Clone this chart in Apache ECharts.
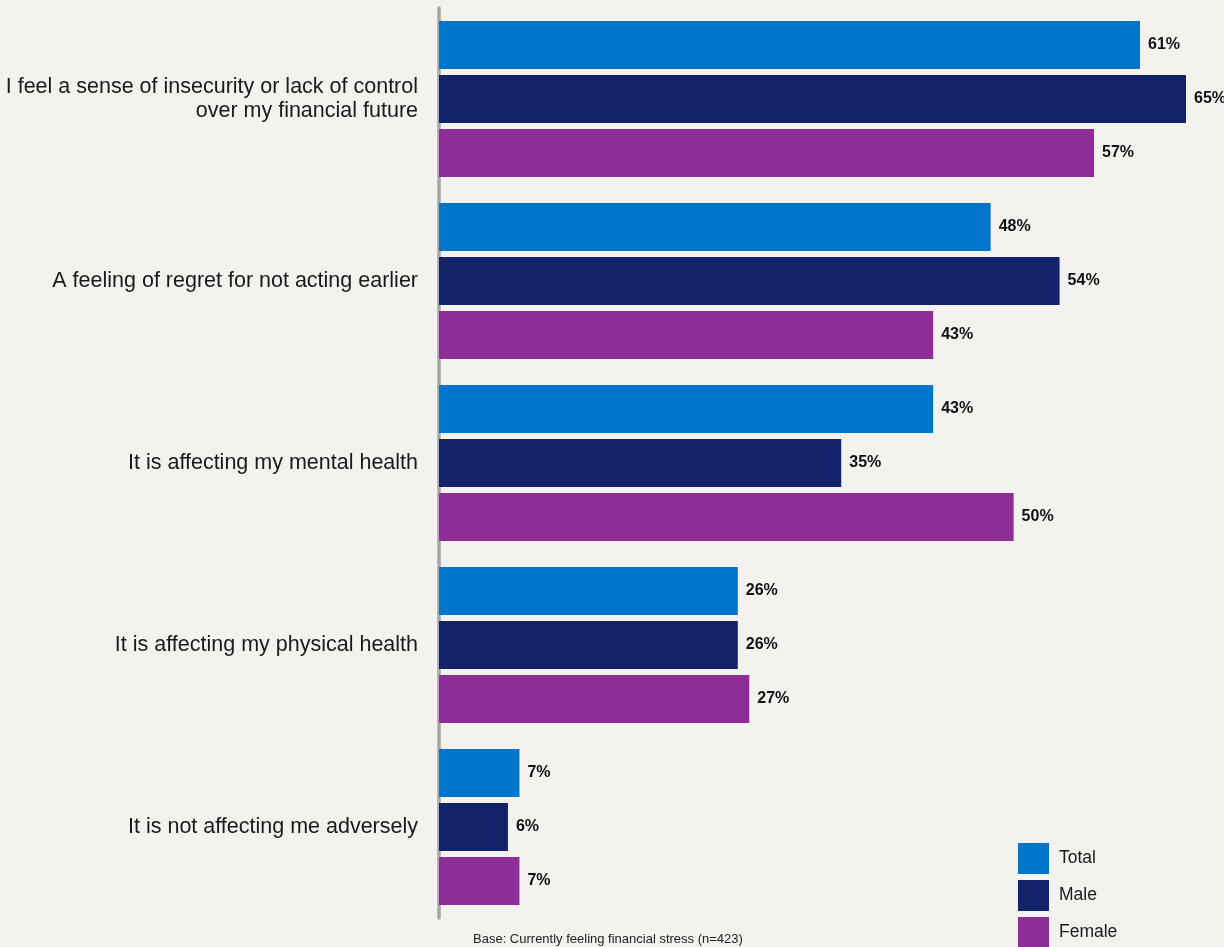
<!DOCTYPE html>
<html>
<head>
<meta charset="utf-8">
<script src="https://cdn.jsdelivr.net/npm/echarts@6/dist/echarts.min.js"></script>
<style>
  html, body { margin: 0; padding: 0; background: #F3F2EF; }
  #chart { width: 1224px; height: 947px; }
</style>
</head>
<body>
<div id="chart"></div>
<script>
// Survey answers, one row per statement (top to bottom)
const categories = [
  'I feel a sense of insecurity or lack of control\nover my financial future',
  'A feeling of regret for not acting earlier',
  'It is affecting my mental health',
  'It is affecting my physical health',
  'It is not affecting me adversely'
];
const totalValues  = [61, 48, 43, 26, 7];
const maleValues   = [65, 54, 35, 26, 6];
const femaleValues = [57, 43, 50, 27, 7];
const seriesNames  = ['Total', 'Male', 'Female'];
const footnote = 'Base: Currently feeling financial stress (n=423)';

const colors = ['#0075C9', '#13236A', '#8E2D95'];
const FONT = '"Liberation Sans", Arial, Helvetica, sans-serif';

const chart = echarts.init(document.getElementById('chart'), null, { renderer: 'canvas' });

function barSeries(name, data, color) {
  return {
    name: name,
    type: 'bar',
    data: data,
    barGap: '12.5%',
    barCategoryGap: '14.3%',
    itemStyle: { color: color },
    label: {
      show: true,
      position: 'right',
      distance: 8,
      formatter: '{c}%',
      fontFamily: FONT,
      fontSize: 16,
      fontWeight: 'bold',
      color: '#111'
    },
    emphasis: { disabled: true },
    animation: false
  };
}

// Legend drawn as a fixed vertical column of swatches in the lower right
const legendGraphics = [];
seriesNames.forEach(function (name, i) {
  const y = 843 + i * 37;
  legendGraphics.push({
    type: 'rect',
    shape: { x: 1018, y: y, width: 31, height: 31 },
    style: { fill: colors[i] }
  });
  legendGraphics.push({
    type: 'text',
    x: 1059,
    y: y + 15.5,
    style: {
      text: name,
      fontFamily: FONT,
      fontSize: 17.5,
      fill: '#1A1A1A',
      verticalAlign: 'middle'
    }
  });
});

chart.setOption({
  backgroundColor: '#F3F2EF',
  animation: false,
  textStyle: { fontFamily: FONT },
  grid: { left: 439, right: 38, top: 8, height: 910, containLabel: false },
  xAxis: {
    type: 'value',
    min: 0,
    max: 65,
    show: false
  },
  yAxis: {
    type: 'category',
    data: categories,
    inverse: true,
    offset: 2,
    axisLine: { show: true, lineStyle: { color: '#A6A6A6', width: 3.5 } },
    axisTick: { show: false },
    axisLabel: {
      margin: 19,
      fontFamily: FONT,
      fontSize: 21.5,
      lineHeight: 24,
      color: '#1A1A1A',
      align: 'right'
    }
  },
  graphic: legendGraphics.concat([{
    type: 'text',
    left: 473,
    top: 933,
    style: { text: footnote, fontFamily: FONT, fontSize: 13, fill: '#222' }
  }]),
  series: [
    barSeries(seriesNames[0], totalValues, colors[0]),
    barSeries(seriesNames[1], maleValues, colors[1]),
    barSeries(seriesNames[2], femaleValues, colors[2])
  ]
});
</script>
</body>
</html>
